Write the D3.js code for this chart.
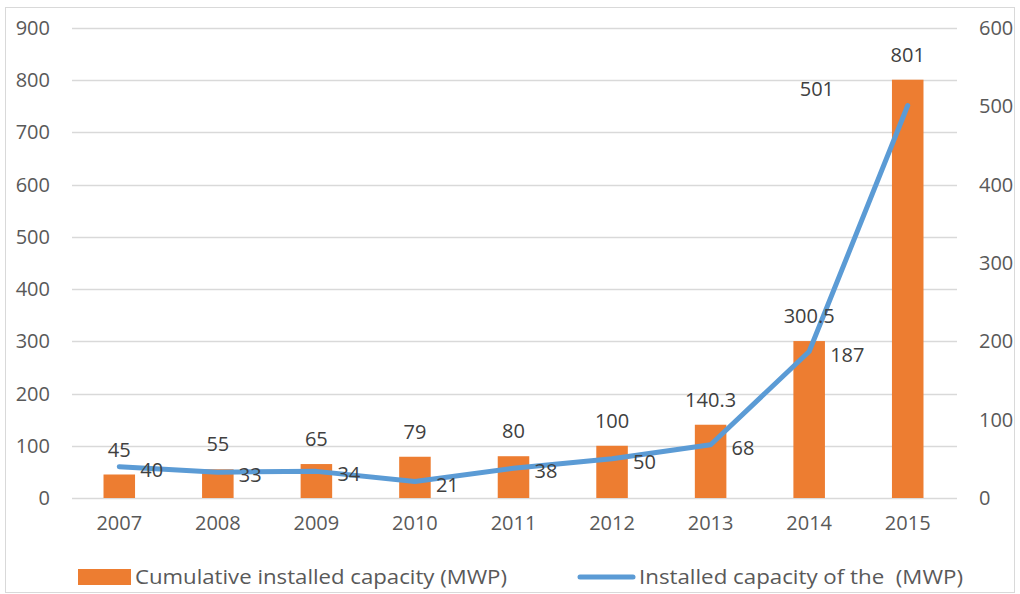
<!DOCTYPE html>
<html>
<head>
<meta charset="utf-8">
<script src="https://cdn.jsdelivr.net/npm/d3@7"></script>
<style>
  body { margin: 0; background: #fff; }
  svg { display: block; font-family: "Open Sans", "Noto Sans", sans-serif; }
</style>
</head>
<body>
<div id="chart"></div>
<script>
// data
const years = ["2007", "2008", "2009", "2010", "2011", "2012", "2013", "2014", "2015"];
const cumulative = [45, 55, 65, 79, 80, 100, 140.3, 300.5, 801];
const installed = [40, 33, 34, 21, 38, 50, 68, 187, 501];
const leftTicks = [0, 100, 200, 300, 400, 500, 600, 700, 800, 900];
const rightTicks = [0, 100, 200, 300, 400, 500, 600];

const width = 1020, height = 594;
const margin = { top: 28, right: 63, bottom: 96, left: 70 };

const svg = d3.select("#chart").append("svg")
  .attr("width", width)
  .attr("height", height);

// light frame around the chart
svg.append("rect")
  .attr("x", 5.5).attr("y", 7.5)
  .attr("width", width - 11).attr("height", height - 9)
  .attr("fill", "none")
  .attr("stroke", "#d9d9d9");

const x = d3.scaleBand()
  .domain(years)
  .range([margin.left, width - margin.right])
  .paddingInner(0.68)
  .paddingOuter(0.34);

const yL = d3.scaleLinear().domain([0, 900]).range([height - margin.bottom, margin.top]);
const yR = d3.scaleLinear().domain([0, 600]).range([height - margin.bottom, margin.top]);

const cx = i => x(years[i]) + x.bandwidth() / 2;

// gridlines
svg.append("g")
  .selectAll("line")
  .data(leftTicks)
  .join("line")
  .attr("x1", margin.left + 2)
  .attr("x2", width - margin.right)
  .attr("y1", d => Math.round(yL(d)) + 0.5)
  .attr("y2", d => Math.round(yL(d)) + 0.5)
  .attr("stroke", "#d9d9d9")
  .attr("stroke-width", 1.3);

// left axis labels
svg.append("g")
  .selectAll("text")
  .data(leftTicks)
  .join("text")
  .attr("x", 50)
  .attr("y", d => yL(d))
  .attr("dy", "0.35em")
  .attr("text-anchor", "end")
  .attr("font-size", 20)
  .attr("fill", "#595959")
  .text(d => d);

// right axis labels
svg.append("g")
  .selectAll("text")
  .data(rightTicks)
  .join("text")
  .attr("x", 979)
  .attr("y", d => yR(d))
  .attr("dy", "0.35em")
  .attr("text-anchor", "start")
  .attr("font-size", 20)
  .attr("fill", "#595959")
  .text(d => d);

// x labels
svg.append("g")
  .selectAll("text")
  .data(years)
  .join("text")
  .attr("x", (d, i) => cx(i))
  .attr("y", 523)
  .attr("dy", "0.35em")
  .attr("text-anchor", "middle")
  .attr("font-size", 20)
  .attr("fill", "#595959")
  .text(d => d);

// bars
svg.append("g")
  .selectAll("rect")
  .data(cumulative)
  .join("rect")
  .attr("x", (d, i) => x(years[i]))
  .attr("y", d => yL(d))
  .attr("width", x.bandwidth())
  .attr("height", d => yL(0) - yL(d))
  .attr("fill", "#ed7d31");

// line
const line = d3.line()
  .x((d, i) => cx(i))
  .y(d => yR(d));

svg.append("path")
  .datum(installed)
  .attr("d", line)
  .attr("fill", "none")
  .attr("stroke", "#5b9bd5")
  .attr("stroke-width", 5)
  .attr("stroke-linejoin", "round")
  .attr("stroke-linecap", "round");

// bar labels
svg.append("g")
  .selectAll("text")
  .data(cumulative)
  .join("text")
  .attr("x", (d, i) => cx(i))
  .attr("y", d => yL(d) - 25)
  .attr("dy", "0.35em")
  .attr("text-anchor", "middle")
  .attr("font-size", 20)
  .attr("fill", "#404040")
  .text(d => d);

// line labels (the last one sits up-left of its point)
const last = installed.length - 1;
svg.append("g")
  .selectAll("text")
  .data(installed)
  .join("text")
  .attr("x", (d, i) => i === last ? cx(i) - 108 : cx(i) + 21)
  .attr("y", (d, i) => i === last ? yR(d) - 17 : yR(d) + 3)
  .attr("dy", "0.35em")
  .attr("text-anchor", "start")
  .attr("font-size", 20)
  .attr("fill", "#404040")
  .text(d => d);

// legend
const legend = svg.append("g").attr("font-size", 20).attr("fill", "#595959");
legend.append("rect")
  .attr("x", 78).attr("y", 569)
  .attr("width", 53).attr("height", 16)
  .attr("fill", "#ed7d31");
legend.append("text")
  .attr("x", 135).attr("y", 577).attr("dy", "0.35em")
  .attr("textLength", 372).attr("lengthAdjust", "spacingAndGlyphs")
  .text("Cumulative installed capacity (MWP)");
legend.append("line")
  .attr("x1", 580).attr("x2", 633)
  .attr("y1", 577).attr("y2", 577)
  .attr("stroke", "#5b9bd5")
  .attr("stroke-width", 5)
  .attr("stroke-linecap", "round");
legend.append("text")
  .attr("x", 639).attr("y", 577).attr("dy", "0.35em")
  .attr("textLength", 324).attr("lengthAdjust", "spacingAndGlyphs")
  .style("white-space", "pre")
  .text("Installed capacity of the  (MWP)");
</script>
</body>
</html>
